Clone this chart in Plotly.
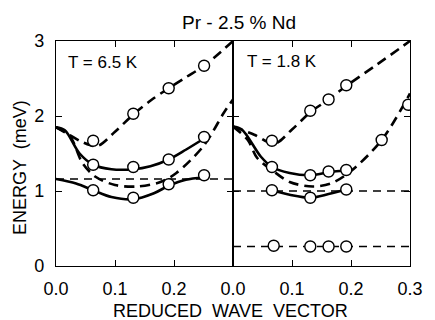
import plotly.graph_objects as go

# ---------------- data ----------------
# Left panel, T = 6.5 K : measured points
qL_pts = [0.063, 0.131, 0.191, 0.251]
EL_up_pts = [1.67, 2.03, 2.37, 2.67]
EL_mid_pts = [1.35, 1.32, 1.42, 1.72]
EL_low_pts = [1.01, 0.91, 1.09, 1.21]

# Left panel calculated curves
qL_up = [0.0, 0.02, 0.045, 0.07, 0.1, 0.131, 0.161, 0.191, 0.221, 0.251, 0.28, 0.3]
EL_up = [1.85, 1.76, 1.65, 1.60, 1.79, 2.02, 2.21, 2.37, 2.52, 2.67, 2.86, 3.0]
qL_mid = [0.0, 0.015, 0.04, 0.063, 0.094, 0.131, 0.16, 0.191, 0.22, 0.251]
EL_mid = [1.85, 1.81, 1.50, 1.35, 1.29, 1.29, 1.33, 1.42, 1.55, 1.70]
qL_dsh = [0.0, 0.023, 0.045, 0.067, 0.1, 0.138, 0.177, 0.204, 0.251, 0.285, 0.3]
EL_dsh = [1.85, 1.74, 1.37, 1.19, 1.08, 1.06, 1.12, 1.24, 1.61, 2.05, 2.22]
qL_low = [0.0, 0.034, 0.063, 0.094, 0.131, 0.166, 0.191, 0.22, 0.25]
EL_low = [1.16, 1.10, 1.01, 0.92, 0.89, 0.97, 1.07, 1.15, 1.18]
EL_flat = 1.16

# Right panel, T = 1.8 K : measured points
qR_up_pts = [0.066, 0.131, 0.162, 0.192]
ER_up_pts = [1.67, 2.07, 2.22, 2.41]
qR_br_pts = [0.252, 0.297]
ER_br_pts = [1.68, 2.15]
qR_mid_pts = [0.066, 0.131, 0.162, 0.192]
ER_mid_pts = [1.32, 1.21, 1.26, 1.28]
qR_low_pts = [0.066, 0.131, 0.192]
ER_low_pts = [1.01, 0.91, 1.02]
qR_cef_pts = [0.069, 0.131, 0.162, 0.192]
ER_cef_pts = [0.27, 0.26, 0.26, 0.26]

# Right panel calculated curves
qR_up = [0.0, 0.036, 0.07, 0.1, 0.131, 0.162, 0.192, 0.243, 0.3]
ER_up = [1.86, 1.75, 1.63, 1.82, 2.05, 2.22, 2.40, 2.68, 3.0]
qR_mid = [0.0, 0.015, 0.047, 0.066, 0.096, 0.131, 0.162, 0.192, 0.2]
ER_mid = [1.86, 1.82, 1.46, 1.32, 1.24, 1.21, 1.25, 1.28, 1.30]
qR_dsh = [0.0, 0.025, 0.041, 0.066, 0.096, 0.135, 0.166, 0.199, 0.252, 0.3]
ER_dsh = [1.86, 1.68, 1.44, 1.28, 1.12, 1.06, 1.10, 1.26, 1.68, 2.30]
qR_low = [0.066, 0.096, 0.131, 0.162, 0.192]
ER_low = [1.01, 0.95, 0.91, 0.96, 1.02]
ER_flat1 = 1.0
ER_flat2 = 0.26

q_range = [0.0, 0.3]
y_ticks = [0, 1, 2, 3]
xL_ticks = [0.0, 0.1, 0.2]
xR_ticks = [0.0, 0.1, 0.2, 0.3]

# ---------------- figure ----------------
fig = go.Figure()
THICK = 2.6
DASH = "10px,6px"
THIN_DASH = "8px,6px"

def curve(x, y, xa, ya, dash=None, width=THICK):
    fig.add_trace(go.Scatter(x=x, y=y, xaxis=xa, yaxis=ya, mode="lines",
                             line=dict(color="black", width=width, dash=dash,
                                       shape="spline", smoothing=0.9),
                             showlegend=False, hoverinfo="skip"))

def points(x, y, xa, ya):
    fig.add_trace(go.Scatter(x=x, y=y, xaxis=xa, yaxis=ya, mode="markers",
                             marker=dict(symbol="circle", size=11, color="white",
                                         line=dict(color="black", width=1.4)),
                             showlegend=False, hoverinfo="skip"))

# left panel
curve(q_range, [EL_flat, EL_flat], "x", "y", THIN_DASH, 1.5)
curve(qL_up, EL_up, "x", "y", DASH)
curve(qL_dsh, EL_dsh, "x", "y", DASH)
curve(qL_mid, EL_mid, "x", "y")
curve(qL_low, EL_low, "x", "y")
points(qL_pts, EL_up_pts, "x", "y")
points(qL_pts, EL_mid_pts, "x", "y")
points(qL_pts, EL_low_pts, "x", "y")

# right panel
curve(q_range, [ER_flat1, ER_flat1], "x2", "y2", THIN_DASH, 1.5)
curve(q_range, [ER_flat2, ER_flat2], "x2", "y2", THIN_DASH, 1.5)
curve(qR_up, ER_up, "x2", "y2", DASH)
curve(qR_dsh, ER_dsh, "x2", "y2", DASH)
curve(qR_mid, ER_mid, "x2", "y2")
curve(qR_low, ER_low, "x2", "y2")
points(qR_up_pts, ER_up_pts, "x2", "y2")
points(qR_br_pts, ER_br_pts, "x2", "y2")
points(qR_mid_pts, ER_mid_pts, "x2", "y2")
points(qR_low_pts, ER_low_pts, "x2", "y2")
points(qR_cef_pts, ER_cef_pts, "x2", "y2")

FONT = "Liberation Sans, Arial, sans-serif"
axis_common = dict(showline=True, linecolor="black", linewidth=1.3, mirror="ticks",
                   ticks="inside", ticklen=6, tickcolor="black", tickwidth=1.2,
                   showgrid=False, zeroline=False,
                   tickfont=dict(family=FONT, size=18, color="black"))

fig.update_layout(
    width=435, height=320,
    margin=dict(l=56, r=15, t=41, b=54),
    paper_bgcolor="white", plot_bgcolor="white",
    xaxis=dict(domain=[0, 0.5], range=q_range, tickvals=xL_ticks,
               ticktext=["0.0", "0.1", "0.2"], anchor="y",
               ticklabelstandoff=6, **axis_common),
    xaxis2=dict(domain=[0.5, 1.0], range=q_range, tickvals=xR_ticks,
                ticktext=["0.0", "0.1", "0.2", "0.3"], anchor="y2",
                ticklabelstandoff=6, **axis_common),
    yaxis=dict(domain=[0, 1], range=[0, 3], tickvals=y_ticks, anchor="x",
               ticklabelstandoff=7, **axis_common),
    yaxis2=dict(domain=[0, 1], range=[0, 3], tickvals=y_ticks, anchor="x2",
                matches="y", showticklabels=False, **axis_common),
)

ann_font = dict(family=FONT, size=18, color="black")
fig.add_annotation(text="Pr - 2.5 % Nd", xref="paper", yref="paper",
                   x=0.516, y=1.084, showarrow=False,
                   font=dict(family=FONT, size=19, color="black"),
                   xanchor="center", yanchor="middle")
fig.add_annotation(text="REDUCED  WAVE  VECTOR", xref="paper", yref="paper",
                   x=0.492, y=-0.202, showarrow=False, font=ann_font,
                   xanchor="center", yanchor="middle")
fig.add_annotation(text="ENERGY  (meV)", xref="paper", yref="paper",
                   x=-0.102, y=0.44, showarrow=False, font=ann_font,
                   textangle=-90, xanchor="center", yanchor="middle")
fig.add_annotation(text="T = 6.5 K", xref="x", yref="y", x=0.079, y=2.72,
                   showarrow=False, font=dict(family=FONT, size=17, color="black"),
                   xanchor="center", yanchor="middle")
fig.add_annotation(text="T = 1.8 K", xref="x2", yref="y2", x=0.083, y=2.73,
                   showarrow=False, font=dict(family=FONT, size=17, color="black"),
                   xanchor="center", yanchor="middle")

fig.write_html("out.html",
               config={"displayModeBar": False},
               post_script="document.body.style.margin='0';document.body.style.overflow='hidden';")
